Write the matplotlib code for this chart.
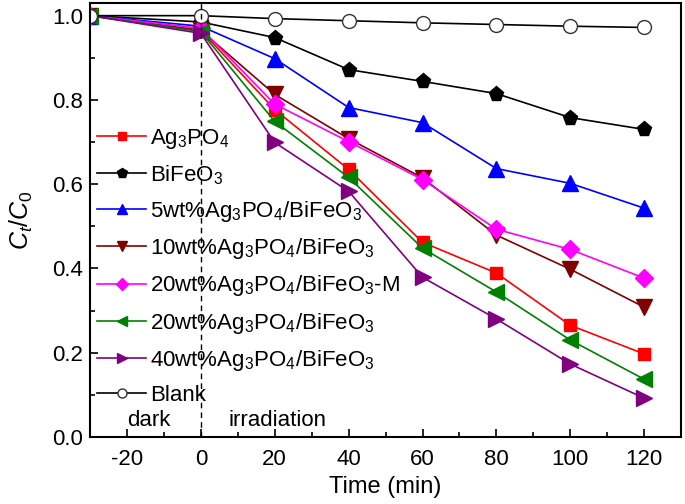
import matplotlib
matplotlib.use('Agg')
import matplotlib.pyplot as plt
from matplotlib.ticker import MultipleLocator, FormatStrFormatter

plt.rcParams['font.family'] = 'Liberation Sans'
plt.rcParams['mathtext.fontset'] = 'custom'
plt.rcParams['mathtext.rm'] = 'Liberation Sans'
plt.rcParams['mathtext.it'] = 'Liberation Sans:italic'
plt.rcParams['axes.unicode_minus'] = False

# time points (min)
time = [-30, 0, 20, 40, 60, 80, 100, 120]

# C/C0 for each sample
ag3po4 = [1.0, 0.965, 0.777, 0.635, 0.462, 0.389, 0.265, 0.197]
bifeo3 = [1.0, 0.985, 0.948, 0.872, 0.844, 0.815, 0.758, 0.730]
wt5 = [1.0, 0.975, 0.898, 0.782, 0.746, 0.637, 0.602, 0.543]
wt10 = [1.0, 0.965, 0.813, 0.708, 0.615, 0.479, 0.398, 0.308]
wt20m = [1.0, 0.97, 0.790, 0.701, 0.611, 0.493, 0.445, 0.377]
wt20 = [1.0, 0.962, 0.749, 0.616, 0.448, 0.344, 0.230, 0.137]
wt40 = [1.0, 0.958, 0.699, 0.583, 0.379, 0.280, 0.173, 0.092]
blank = [1.0, 1.0, 0.993, 0.988, 0.983, 0.979, 0.975, 0.972]

labels = [r'Ag$_3$PO$_4$', r'BiFeO$_3$', r'5wt%Ag$_3$PO$_4$/BiFeO$_3$',
          r'10wt%Ag$_3$PO$_4$/BiFeO$_3$', r'20wt%Ag$_3$PO$_4$/BiFeO$_3$-M',
          r'20wt%Ag$_3$PO$_4$/BiFeO$_3$', r'40wt%Ag$_3$PO$_4$/BiFeO$_3$', 'Blank']
series = [ag3po4, bifeo3, wt5, wt10, wt20m, wt20, wt40, blank]
colors = ['#ff0000', '#000000', '#0000ff', '#800000', '#ff00ff', '#008000', '#800080', '#000000']
markers = ['s', 'p', '^', 'v', 'D', '<', '>', 'o']
msizes = [9, 11, 11, 11, 9, 11, 11, 10]

fig = plt.figure(figsize=(6.85, 5.04), dpi=100)
ax = fig.add_axes([0.1314, 0.133, 0.863, 0.861])

for y, lab, c, m, ms in zip(series, labels, colors, markers, msizes):
    face = 'white' if lab == 'Blank' else c
    ax.plot(time, y, color=c, marker=m, markersize=ms, markerfacecolor=face,
            markeredgecolor=c if lab != 'Blank' else '#333333', markeredgewidth=1.0,
            linewidth=1.2, label=lab)

ax.axvline(0, color='black', linestyle='--', linewidth=1.0, dashes=(4, 3))
ax.text(-14, 0.027, 'dark', fontsize=16, ha='center')
ax.text(7.5, 0.027, 'irradiation', fontsize=16, ha='left')

ax.set_xlim(-30, 130)
ax.set_ylim(0, 1.03)
ax.xaxis.set_major_locator(MultipleLocator(20))
ax.xaxis.set_minor_locator(MultipleLocator(10))
ax.yaxis.set_major_locator(MultipleLocator(0.2))
ax.yaxis.set_minor_locator(MultipleLocator(0.1))
ax.yaxis.set_major_formatter(FormatStrFormatter('%.1f'))
ax.tick_params(which='both', direction='in', labelsize=16, width=1.2)
ax.tick_params(which='major', length=6)
ax.tick_params(axis='x', which='major', pad=9)
ax.tick_params(axis='y', which='major', pad=5)
ax.tick_params(which='minor', length=3.5)
for s in ax.spines.values():
    s.set_linewidth(1.5)

ax.set_xlabel('Time (min)', fontsize=17, labelpad=4)
ax.set_ylabel(r'$C_t/C_0$', fontsize=18, labelpad=12)

leg = ax.legend(loc='upper left', bbox_to_anchor=(-0.003, 0.735), frameon=False,
                fontsize=16, handlelength=2.2, handletextpad=0.2,
                labelspacing=0.55, markerscale=0.65, borderaxespad=0)

fig.savefig('out.png', dpi=100)
